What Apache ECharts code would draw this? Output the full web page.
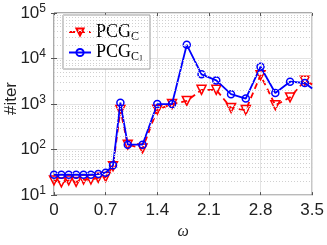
<!DOCTYPE html>
<html><head><meta charset="utf-8">
<script src="https://cdn.jsdelivr.net/npm/echarts@6/dist/echarts.min.js"></script>
<style>html,body{margin:0;padding:0;background:#fff}#c{width:327px;height:245px}</style>
</head><body><div id="c"></div>
<script>
// last point (3.5) is where the curves leave the plot at its right edge; no marker drawn there
const omega = [0,0.1,0.2,0.3,0.4,0.5,0.6,0.7,0.8,0.9,1.0,1.2,1.4,1.6,1.8,2.0,2.2,2.4,2.6,2.8,3.0,3.2,3.4,3.5];
const pcgC  = [21,19,21,19.5,22,22,24,25,43,740,128,106,750,1000,1170,2050,2050,820,740,4300,940,1400,3250,2700];
const pcgC1 = [28,28,28,28,28,28,29,31,45,1070,128,128,1000,1000,20000,4500,3300,1650,1320,6600,1750,3100,2900,2200];
const xTicks = [0,0.7,1.4,2.1,2.8,3.5];
const yDecades = [10,100,1000,10000,100000];
const seriesNames = ['PCG_C','PCG_C1'];

const minorVals = [];
yDecades.slice(0,-1).forEach(d => { for (let k = 2; k <= 9; k++) minorVals.push(d*k); });

function toData(ys) {
  return omega.map((x, i) => i === omega.length - 1
    ? {value: [x, ys[i]], symbol: 'none'}
    : [x, ys[i]]);
}

const chart = echarts.init(document.getElementById('c'));
const sans = 'Liberation Sans';
chart.setOption({
  animation: false,
  grid: {left: 54, right: 13, top: 13, bottom: 32, show: true, borderColor: '#555', borderWidth: 1, backgroundColor: 'transparent'},
  legend: {
    orient: 'vertical', left: 63, top: 15,
    padding: [8, 7, 6, 5], itemGap: 1, itemWidth: 22, itemHeight: 9,
    backgroundColor: '#fff', borderColor: '#999', borderWidth: 1, borderRadius: 0,
    data: seriesNames,
    formatter: n => n === 'PCG_C' ? '{a|PCG}{b|C}' : '{a|PCG}{b|C}{c|1}',
    textStyle: {
      rich: {
        a: {fontFamily: 'Liberation Serif', fontSize: 18, color: '#000', lineHeight: 20},
        b: {fontFamily: 'Liberation Serif', fontSize: 12, color: '#000', padding: [9, 0, 0, 0]},
        c: {fontFamily: 'Liberation Serif', fontSize: 8, color: '#000', padding: [13, 0, 0, 0]}
      }
    }
  },
  xAxis: [{
    type: 'value', min: 0, max: 3.5, interval: 0.7,
    name: 'ω', nameLocation: 'middle', nameGap: 21,
    nameTextStyle: {fontFamily: 'Liberation Serif', fontStyle: 'italic', fontSize: 16, color: '#222'},
    axisLine: {show: false},
    axisTick: {show: true, inside: true, length: 3, lineStyle: {color: '#555'}},
    axisLabel: {fontFamily: sans, fontSize: 17, color: '#222', margin: 7, formatter: v => String(+v.toFixed(1))},
    splitLine: {show: true, lineStyle: {color: '#e3e3e3', width: 1}}
  }, {
    type: 'value', min: 0, max: 3.5, interval: 0.7, position: 'top',
    axisLine: {show: false}, axisLabel: {show: false}, splitLine: {show: false},
    axisTick: {show: true, inside: true, length: 3, lineStyle: {color: '#555'}}
  }],
  yAxis: [{
    type: 'log', logBase: 10, min: 10, max: 100000,
    axisLine: {show: false},
    axisTick: {show: true, inside: true, length: 3, lineStyle: {color: '#555'}},
    axisLabel: {
      margin: 8, color: '#222',
      formatter: v => '{b|10}{s|' + Math.round(Math.log10(v)) + '}',
      rich: {
        b: {fontFamily: sans, fontSize: 17, color: '#222'},
        s: {fontFamily: sans, fontSize: 12, color: '#222', padding: [0, 0, 9, 0]}
      }
    },
    splitLine: {show: true, lineStyle: {color: '#e3e3e3', width: 1}}
  }, {
    type: 'log', logBase: 10, min: 10, max: 100000, position: 'right',
    axisLine: {show: false}, axisLabel: {show: false}, splitLine: {show: false},
    axisTick: {show: true, inside: true, length: 3, lineStyle: {color: '#555'}}
  }],
  graphic: [{
    type: 'text', left: 3, top: 82, rotation: Math.PI/2,
    style: {text: '#iter', fontFamily: sans, fontSize: 17, fill: '#222'}
  }],
  series: [{
    type: 'line', name: 'minor', data: [], z: 1, silent: true,
    markLine: {
      silent: true, symbol: 'none', label: {show: false},
      lineStyle: {color: '#d0d0d0', type: [1, 2], width: 1},
      data: minorVals.map(v => ({yAxis: v}))
    }
  }, {
    type: 'line', name: 'PCG_C', z: 3,
    data: toData(pcgC),
    symbol: 'triangle', symbolRotate: 180, symbolSize: 9, showAllSymbol: true,
    lineStyle: {color: '#ff0000', width: 1.8, type: [6, 4]},
    itemStyle: {color: 'rgba(255,255,255,0)', borderColor: '#ff0000', borderWidth: 1.5}
  }, {
    type: 'line', name: 'PCG_C1', z: 4,
    data: toData(pcgC1),
    symbol: 'circle', symbolSize: 7, showAllSymbol: true,
    lineStyle: {color: '#0000ff', width: 1.8},
    itemStyle: {color: 'rgba(255,255,255,0)', borderColor: '#0000ff', borderWidth: 1.5}
  }]
});
</script></body></html>
